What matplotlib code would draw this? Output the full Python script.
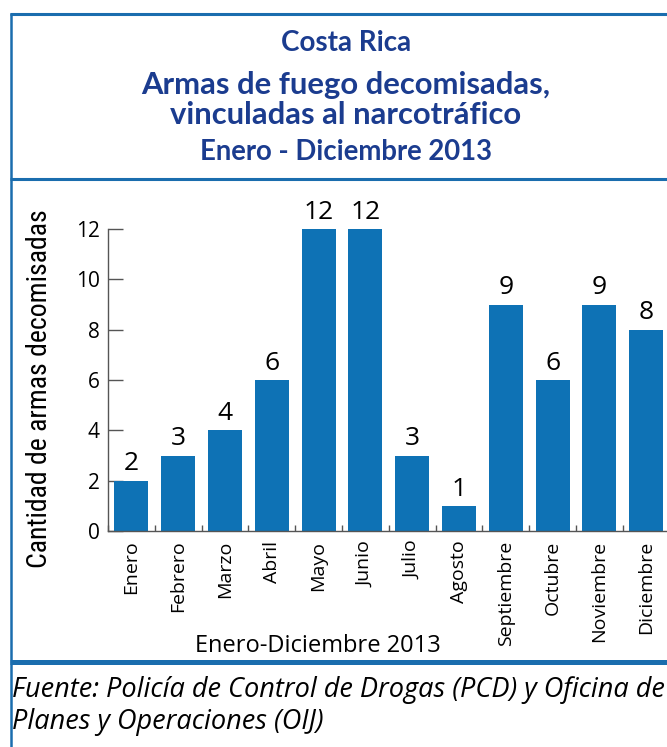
import matplotlib
matplotlib.use("Agg")
import matplotlib.pyplot as plt
from matplotlib.lines import Line2D
from matplotlib import font_manager
import numpy as np

months = ["Enero", "Febrero", "Marzo", "Abril", "Mayo", "Junio", "Julio",
          "Agosto", "Septiembre", "Octubre", "Noviembre", "Diciembre"]
values = [2, 3, 4, 6, 12, 12, 3, 1, 9, 6, 9, 8]
yticks = [0, 2, 4, 6, 8, 10, 12]

title_lines = ["Costa Rica", "Armas de fuego decomisadas,",
               "vinculadas al narcotráfico", "Enero - Diciembre 2013"]
ylabel = "Cantidad de armas decomisadas"
xlabel = "Enero-Diciembre 2013"
source = ["Fuente: Policía de Control de Drogas (PCD) y Oficina de",
          "Planes y Operaciones (OIJ)"]

W, H = 667, 747
BAR = "#0E72B5"
FRAME = "#1A6DAE"
TITLE = "#1B3C8F"
GREY = "#555555"
BODY = ["Open Sans", "DejaVu Sans"]
TFONT = ["Lato", "DejaVu Sans"]


def find_narrow():
    cands = ["Liberation Sans Narrow", "Roboto Condensed", "Open Sans Condensed"]
    for cand in cands:
        for f in font_manager.fontManager.ttflist:
            w = f.weight if isinstance(f.weight, int) else {"normal": 400, "regular": 400}.get(str(f.weight).lower(), 0)
            if f.name != cand or f.style != "normal" or w != 400:
                continue
            if "bold" in f.fname.lower():
                continue
            return f.fname
    return None


narrow_file = find_narrow()

fig = plt.figure(figsize=(W / 100, H / 100), dpi=100)


def fx(x):
    return x / W


def fy(y):
    return 1 - y / H


def hline(y, x0, x1, lw):
    fig.add_artist(Line2D([fx(x0), fx(x1)], [fy(y), fy(y)], transform=fig.transFigure,
                          color=FRAME, lw=lw, solid_capstyle="butt"))


def vline(x, y0, y1, lw):
    fig.add_artist(Line2D([fx(x), fx(x)], [fy(y0), fy(y1)], transform=fig.transFigure,
                          color=FRAME, lw=lw, solid_capstyle="butt"))


# frame
hline(13.5, 10, W, 2.2)
hline(179, 10, W, 2.2)
hline(662, 10, W, 3.6)
vline(11, 12.5, H, 1.8)

# titles
title_y = [43, 85, 115, 152]
title_sizes = [20, 22.3, 22.3, 19.8]
for t, y, s in zip(title_lines, title_y, title_sizes):
    fig.text(fx(346), fy(y), t, ha="center", va="center", fontsize=s,
             fontweight="bold", color=TITLE, family=TFONT)

# axes
left, right_px = 108, 108 + 561.6
bottom, top = 531, 229
ax = fig.add_axes([fx(left), fy(bottom), (right_px - left) / W, (bottom - top) / H])
x = np.arange(len(months))
bars = ax.bar(x, values, width=0.73, color=BAR, zorder=2)
ax.set_xlim(-0.5, len(months) - 0.5)
ax.set_ylim(0, 12)
for sp in ["top", "right"]:
    ax.spines[sp].set_visible(False)
for sp in ["left", "bottom"]:
    ax.spines[sp].set_color(GREY)
    ax.spines[sp].set_linewidth(1.0)

ax.set_yticks(yticks)
ax.set_yticklabels([str(v) for v in yticks], family=BODY, fontsize=15)
ax.tick_params(axis="y", direction="in", length=11, width=1, color=GREY, pad=6)

ax.set_xticks(x)
ax.set_xticklabels(months, rotation=90, family=BODY, fontsize=14)
ax.tick_params(axis="x", which="major", length=0, pad=7)
ax.set_xticks(np.arange(-0.5, len(months), 1.0), minor=True)
ax.tick_params(axis="x", which="minor", direction="in", length=4, width=1, color=GREY)

for xi, v in zip(x, values):
    ax.annotate(str(v), (xi, v), xytext=(0, 3), textcoords="offset points",
                ha="center", va="bottom", fontsize=19, family=BODY, color="black")

if narrow_file:
    yprop = font_manager.FontProperties(fname=narrow_file, size=20)
    fig.text(fx(40), fy(389), ylabel, rotation=90, ha="center", va="center",
             fontproperties=yprop, color="black")
else:
    fig.text(fx(40), fy(389), ylabel, rotation=90, ha="center", va="center",
             fontsize=17, family=BODY, color="black")
fig.text(fx(318), fy(646), xlabel, ha="center", va="center",
         fontsize=17, family=BODY, color="black")

fig.text(fx(12), fy(690), source[0], ha="left", va="center", fontsize=19.5,
         style="italic", family=BODY, color="black")
fig.text(fx(12), fy(722), source[1], ha="left", va="center", fontsize=19.5,
         style="italic", family=BODY, color="black")

fig.savefig("out.png", dpi=100)
